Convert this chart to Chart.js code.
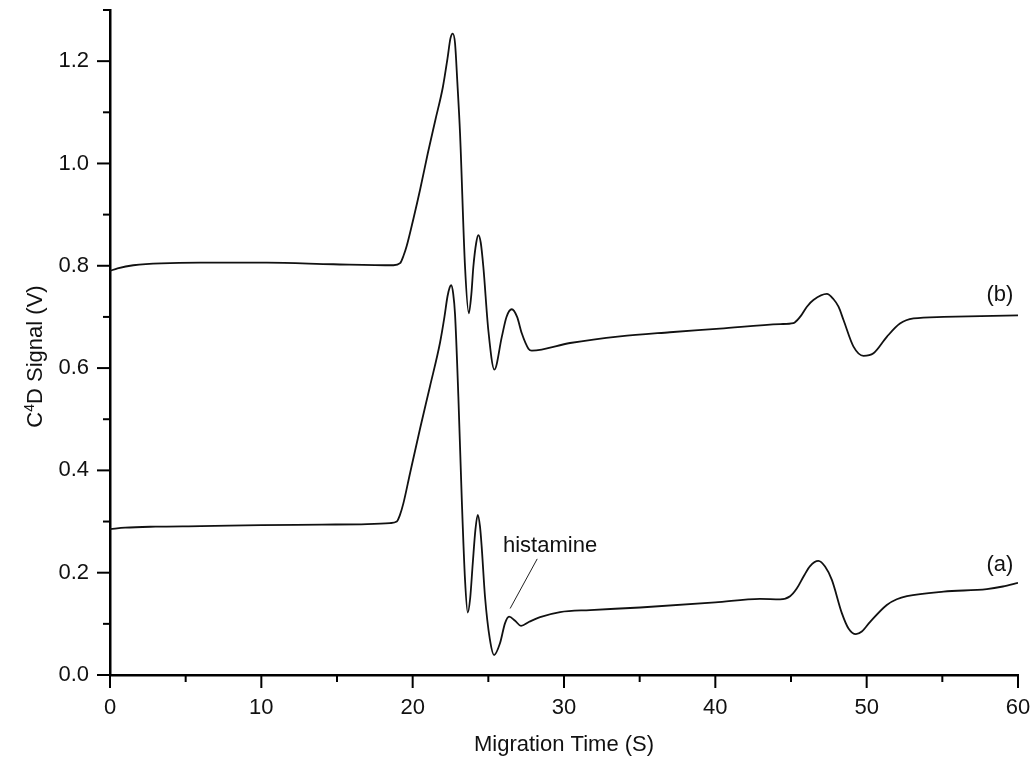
<!DOCTYPE html>
<html><head><meta charset="utf-8">
<script src="https://cdn.jsdelivr.net/npm/chart.js@4.4.1/dist/chart.umd.min.js"></script>
<style>html,body{margin:0;padding:0;background:#fff;}canvas{display:block;}</style>
</head><body>
<canvas id="c" width="1036" height="758"></canvas>
<script>
// ---- data ----
const timeA = [0,1,3,6,10,14,17,18.5,18.95,19.15,19.39,19.83,20.49,21.15,21.81,22.1,22.3,22.45,22.54,22.68,22.8,23.02,23.24,23.46,23.64,23.8,23.97,24.15,24.3,24.45,24.56,24.78,25.1,25.38,25.77,26.1,26.37,26.77,27.16,27.7,28.42,29.74,31.72,35.03,40,42.95,44.28,44.94,45.38,45.82,46.26,46.81,47.25,47.7,48.36,48.8,49.29,49.68,50.23,51.33,51.99,52.66,55.08,57.94,59,60];
const signalA = [0.285,0.288,0.290,0.291,0.293,0.294,0.295,0.297,0.300,0.312,0.336,0.395,0.482,0.565,0.650,0.700,0.740,0.758,0.762,0.745,0.705,0.544,0.348,0.186,0.122,0.150,0.218,0.285,0.313,0.290,0.251,0.153,0.070,0.039,0.062,0.101,0.114,0.106,0.096,0.104,0.113,0.123,0.127,0.132,0.142,0.149,0.148,0.154,0.169,0.192,0.213,0.223,0.212,0.186,0.121,0.091,0.080,0.085,0.104,0.137,0.148,0.154,0.163,0.168,0.173,0.180];
const timeB = [0,0.5,1.54,5.95,10.36,14.76,18.73,19.17,19.4,19.6,20.05,20.5,21.0,21.5,22.0,22.3,22.5,22.65,22.8,22.95,23.13,23.46,23.71,23.88,24.01,24.2,24.34,24.5,24.67,25.0,25.4,25.89,26.2,26.55,26.9,27.21,27.65,27.87,30.4,33.7,37.0,40.3,44.3,45.16,45.6,46.05,46.48,47.37,47.8,48.14,48.47,49.13,49.79,50.45,51.33,52.2,53.1,55.08,60];
const signalB = [0.790,0.795,0.801,0.806,0.806,0.803,0.801,0.805,0.820,0.838,0.892,0.950,1.020,1.085,1.150,1.205,1.245,1.254,1.235,1.160,1.059,0.798,0.707,0.745,0.798,0.845,0.860,0.845,0.798,0.674,0.597,0.661,0.700,0.715,0.700,0.668,0.638,0.634,0.649,0.662,0.670,0.677,0.686,0.688,0.700,0.720,0.733,0.745,0.735,0.720,0.694,0.642,0.624,0.629,0.661,0.687,0.697,0.700,0.703];
const xTickValues = [0,10,20,30,40,50,60];
const xMinorTicks = [5,15,25,35,45,55];
const yTickValues = [0,0.2,0.4,0.6,0.8,1.0,1.2];
const yMinorTicks = [0.1,0.3,0.5,0.7,0.9,1.1,1.3];
const seriesNames = ['(a)','(b)'];
const xTitle = 'Migration Time (S)';
const yTitleParts = ['C','4','D Signal (V)'];
const peakNote = 'histamine';

// ---- placement of text annotations (data coordinates) ----
const seriesLabelPos = [{x:58.8,y:0.215},{x:58.8,y:0.743}];
const notePos = {x:29.08,y:0.252};
const noteLine = [{x:28.23,y:0.227},{x:26.44,y:0.130}];

const FONT = '"Liberation Sans", Arial, sans-serif';
const toPts = (xs, ys) => xs.map((x,i)=>({x, y: ys[i]}));

const extras = {
  id:'extras',
  afterDraw(chart){
    const ctx = chart.ctx, xs = chart.scales.x, ys = chart.scales.y;
    const ca = chart.chartArea;
    ctx.save();
    ctx.strokeStyle = '#000'; ctx.lineWidth = 2;
    const xb = ys.getPixelForValue(0), yl = xs.getPixelForValue(0);
    xTickValues.forEach(v=>{const p=xs.getPixelForValue(v);ctx.beginPath();ctx.moveTo(p,xb);ctx.lineTo(p,xb+13);ctx.stroke();});
    xMinorTicks.forEach(v=>{const p=xs.getPixelForValue(v);ctx.beginPath();ctx.moveTo(p,xb);ctx.lineTo(p,xb+7);ctx.stroke();});
    yTickValues.forEach(v=>{const p=ys.getPixelForValue(v);ctx.beginPath();ctx.moveTo(yl,p);ctx.lineTo(yl-13,p);ctx.stroke();});
    yMinorTicks.forEach(v=>{const p=ys.getPixelForValue(v);ctx.beginPath();ctx.moveTo(yl,p);ctx.lineTo(yl-7,p);ctx.stroke();});
    // y title with superscript
    ctx.fillStyle = '#111';
    ctx.translate(42, (ca.top+ca.bottom)/2 + 14);
    ctx.rotate(-Math.PI/2);
    ctx.textBaseline = 'alphabetic'; ctx.textAlign = 'left';
    ctx.font = '22px ' + FONT; const w1 = ctx.measureText(yTitleParts[0]).width, w3 = ctx.measureText(yTitleParts[2]).width;
    ctx.font = '14px ' + FONT; const w2 = ctx.measureText(yTitleParts[1]).width;
    let sx = -(w1+w2+w3)/2;
    ctx.font = '22px ' + FONT; ctx.fillText(yTitleParts[0], sx, 0); sx += w1;
    ctx.font = '14px ' + FONT; ctx.fillText(yTitleParts[1], sx, -8); sx += w2;
    ctx.font = '22px ' + FONT; ctx.fillText(yTitleParts[2], sx, 0);
    ctx.restore();
    // series labels and note
    ctx.save();
    ctx.fillStyle = '#111'; ctx.font = '22px ' + FONT; ctx.textAlign='center'; ctx.textBaseline='middle';
    seriesNames.forEach((n,i)=>ctx.fillText(n, xs.getPixelForValue(seriesLabelPos[i].x), ys.getPixelForValue(seriesLabelPos[i].y)));
    ctx.fillText(peakNote, xs.getPixelForValue(notePos.x), ys.getPixelForValue(notePos.y));
    ctx.strokeStyle = '#222'; ctx.lineWidth = 1;
    ctx.beginPath();
    ctx.moveTo(xs.getPixelForValue(noteLine[0].x), ys.getPixelForValue(noteLine[0].y));
    ctx.lineTo(xs.getPixelForValue(noteLine[1].x), ys.getPixelForValue(noteLine[1].y));
    ctx.stroke();
    ctx.restore();
  }
};

new Chart(document.getElementById('c'), {
  type:'line',
  data:{datasets:[
    {label:seriesNames[0], data:toPts(timeA, signalA), borderColor:'#111', borderWidth:1.8, pointRadius:0, fill:false, cubicInterpolationMode:'monotone'},
    {label:seriesNames[1], data:toPts(timeB, signalB), borderColor:'#111', borderWidth:1.8, pointRadius:0, fill:false, cubicInterpolationMode:'monotone'}
  ]},
  options:{
    responsive:false, animation:false, devicePixelRatio:1,
    layout:{padding:{left:0,top:10,right:18,bottom:0}},
    plugins:{legend:{display:false}, tooltip:{enabled:false}},
    scales:{
      x:{type:'linear', min:0, max:60,
        afterBuildTicks:s=>{s.ticks = xTickValues.map(v=>({value:v}));},
        afterFit:s=>{s.height = 83; s.paddingLeft = 0; s.paddingRight = 0;},
        grid:{display:true, drawOnChartArea:false, drawTicks:true, tickLength:12, color:'rgba(0,0,0,0)'},
        border:{display:true, color:'#000', width:2.5},
        ticks:{color:'#111', font:{size:22, family:FONT}, padding:8, maxRotation:0, callback:v=>String(v)},
        title:{display:true, text:xTitle, color:'#111', font:{size:22, family:FONT}, padding:{top:3,bottom:0}}
      },
      y:{type:'linear', min:0, max:1.3,
        afterBuildTicks:s=>{s.ticks = yTickValues.map(v=>({value:v}));},
        afterFit:s=>{s.width = 110; s.paddingTop = 0; s.paddingBottom = 0;},
        grid:{display:true, drawOnChartArea:false, drawTicks:true, tickLength:12, color:'rgba(0,0,0,0)'},
        border:{display:true, color:'#000', width:2.5},
        ticks:{color:'#111', font:{size:22, family:FONT}, padding:9, callback:v=>Number(v).toFixed(1)}
      }
    }
  },
  plugins:[extras]
});
</script>
</body></html>
